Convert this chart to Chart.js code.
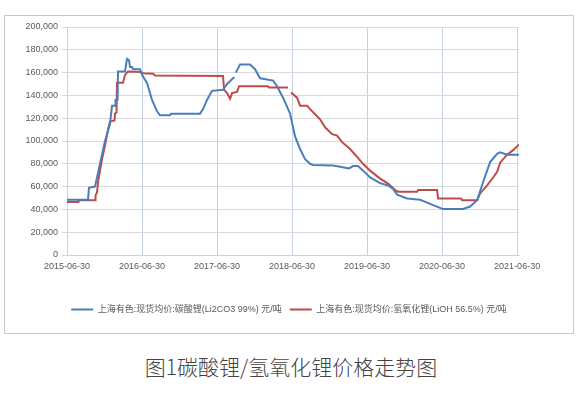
<!DOCTYPE html>
<html>
<head>
<meta charset="utf-8">
<script src="https://cdn.jsdelivr.net/npm/chart.js@4"></script>
<style>
  body { margin: 0; background: #fff; width: 582px; height: 393px; position: relative; overflow: hidden; }
  #box { position: absolute; left: 4px; top: 15px; width: 570px; height: 319px; border: 1px solid #c8c8c8; box-sizing: border-box; }
  #box canvas { display: block; }
  #caption { position: absolute; left: 0; top: 351px; width: 582px; text-align: center;
    font-family: "Noto Sans CJK SC", sans-serif; font-weight: 300; font-size: 21px; color: #444; }
</style>
</head>
<body>
<div id="box"><canvas id="chart" width="568" height="317"></canvas></div>
<div id="caption">图1碳酸锂/氢氧化锂价格走势图</div>
<script>
// months since 2015-06-30
const tickLabels = ["2015-06-30", "2016-06-30", "2017-06-30", "2018-06-30", "2019-06-30", "2020-06-30", "2021-06-30"];
const seriesNames = ["上海有色:现货均价:碳酸锂(Li2CO3 99%) 元/吨", "上海有色:现货均价:氢氧化锂(LiOH 56.5%) 元/吨"];

const blueMonths = [0, 3.36, 3.52, 4.48, 5.28, 6.08, 6.4, 6.88, 7.2, 7.68, 7.76, 8.08, 8.16, 9.28, 9.6, 9.92, 10.08, 10.4,
  10.56, 11.68, 12, 12.8, 13.6, 14.4, 14.88, 16.48, 16.64, 21.28, 21.76, 22.4, 23.2, 24.96, 25.6, 26.56, 26.8, 26.9,
  27.0, 27.68, 29.28, 30.08, 30.88, 32.96, 33.6, 34.56, 35.68, 36.48, 37.28, 38.08, 38.88, 39.36, 42.56, 43.68, 45.12,
  45.76, 46.56, 47.36, 48.48, 50.08, 51.36, 52.16, 52.8, 54.4, 56.48, 57.6, 58.56, 60.16, 63.36, 64.48, 65.6, 66.56,
  67.68, 68.8, 69.28, 70.4, 72.3];
const bluePrices = [48500, 48500, 59000, 60000, 80000, 100000, 106000, 115000, 131000, 131000, 136000, 136000, 161000, 161000, 172000, 171000, 165000, 165000,
  163000, 163000, 158000, 151000, 136000, 126000, 122500, 122500, 124000, 124000, 128000, 136000, 144000, 145000, 150000, 155000, 156000, null,
  160000, 167000, 167000, 163000, 155000, 153000, 148000, 138000, 124000, 104000, 93000, 84000, 80000, 79000, 78600, 77500, 76000,
  78000, 78000, 74000, 68000, 63000, 61000, 58000, 53000, 49600, 48500, 46000, 43800, 40300, 40300, 42500, 48000, 64000,
  81500, 88700, 90000, 88000, 88000];

const redMonths = [0, 1.76, 1.84, 4.48, 4.56, 4.8, 4.96, 5.6, 6.08, 6.56, 6.88, 7.6, 7.68, 7.92, 8.0, 8.96, 9.28, 9.76,
  11.68, 12.16, 13.76, 14.08, 24.96, 25.12, 25.6, 26.08, 26.4, 27.2, 27.52, 32.16, 32.32, 35.36, 35.6, 35.84, 36.8,
  37.28, 38.4, 38.88, 39.68, 40.48, 41.28, 42.4, 43.2, 44, 45.28, 46.4, 47.36, 48.48, 50.08, 51.36, 52.48, 52.96, 56,
  56.16, 59.2, 59.36, 63.04, 63.2, 65.6, 66.08, 67.2, 68.16, 68.8, 69.28, 70.4, 71.36, 72.3];
const redPrices = [46500, 46500, 48000, 48000, 52000, 55000, 64000, 84000, 96000, 110000, 117000, 118000, 124000, 125000, 151000, 151000, 158000, 161000,
  160500, 159500, 159000, 157500, 157000, 145000, 142000, 137000, 142000, 143000, 148000, 148000, 147000, 147000, null, 142500, 138000,
  131000, 131000, 128000, 123500, 119000, 112000, 106000, 104700, 99000, 93000, 86000, 80000, 74000, 67000, 62600, 57000, 55500, 55500,
  57000, 57000, 49600, 49600, 48000, 48000, 54000, 61000, 68000, 73000, 81000, 88000, 92000, 97000];

const toPoints = (xs, ys) => xs.map((x, i) => ({ x: x, y: ys[i] }));

Chart.defaults.font.family = "'Liberation Sans', 'Noto Sans CJK SC', sans-serif";
Chart.defaults.font.size = 9;
Chart.defaults.color = '#595959';

new Chart(document.getElementById('chart'), {
  type: 'line',
  data: {
    datasets: [{
      label: seriesNames[0],
      data: toPoints(blueMonths, bluePrices),
      borderColor: '#4a7ebb',
      backgroundColor: '#4a7ebb',
      borderWidth: 2,
      pointRadius: 0,
      pointStyle: 'line'
    }, {
      label: seriesNames[1],
      data: toPoints(redMonths, redPrices),
      borderColor: '#be4b48',
      backgroundColor: '#be4b48',
      borderWidth: 2,
      pointRadius: 0,
      pointStyle: 'line'
    }]
  },
  options: {
    responsive: false,
    animation: false,
    layout: { padding: { left: 0, right: 0, top: 11, bottom: 9 } },
    plugins: {
      tooltip: { enabled: false },
      legend: {
        position: 'bottom',
        labels: { usePointStyle: true, pointStyleWidth: 22, padding: 8, color: '#595959', font: { size: 9 } }
      }
    },
    scales: {
      x: {
        type: 'linear',
        min: 0,
        max: 72.3,
        afterBuildTicks: (scale) => { scale.ticks = tickLabels.map((t, i) => ({ value: i * 12 })); },
        afterFit: (scale) => { scale.height = 42; },
        ticks: { padding: 6, maxRotation: 0, callback: (v) => tickLabels[v / 12] },
        grid: { color: '#c5d2e6', drawTicks: false },
        border: { color: '#c5d2e6' }
      },
      y: {
        min: 0,
        max: 200000,
        afterFit: (scale) => { scale.width = 62; },
        ticks: { stepSize: 20000, padding: 4, callback: (v) => v.toLocaleString('en-US') },
        grid: { color: '#d9d9d9', tickLength: 5 },
        border: { color: '#c5d2e6' }
      },
      // empty right margin so the legend stays centred on the whole box
      spacer: {
        type: 'linear',
        position: 'right',
        ticks: { display: false },
        grid: { display: false },
        border: { display: false },
        afterFit: (scale) => { scale.width = 54; }
      }
    }
  }
});
</script>
</body>
</html>
